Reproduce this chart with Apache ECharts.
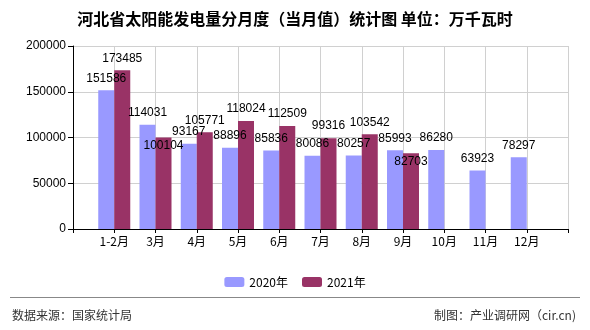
<!DOCTYPE html>
<html><head><meta charset="utf-8">
<script src="https://cdn.jsdelivr.net/npm/echarts@6/dist/echarts.min.js"></script>
<style>html,body{margin:0;padding:0;background:#fff}#c{width:590px;height:330px}</style>
</head><body><div id="c"></div>
<script>
const categories = ['1-2月','3月','4月','5月','6月','7月','8月','9月','10月','11月','12月'];
const values2020 = [151586,114031,93167,88896,85836,80086,80257,85993,86280,63923,78297];
const values2021 = [173485,100104,105771,118024,112509,99316,103542,82703];
const yTicks = [0,50000,100000,150000,200000];
const seriesNames = ['2020年','2021年'];
const titleText = '河北省太阳能发电量分月度（当月值）统计图 单位：万千瓦时';
const sourceText = '数据来源：国家统计局';
const makerText = '制图：产业调研网（cir.cn)';

const axisCats = [''].concat(categories, ['']);
const pad = arr => [null].concat(arr, new Array(axisCats.length - 1 - arr.length).fill(null));
const insideIdx2021 = [1, 7];
const FONT = '"Liberation Sans", sans-serif';
const CJK = '"Noto Sans CJK SC", sans-serif';

const chart = echarts.init(document.getElementById('c'), null, {renderer:'canvas'});
chart.setOption({
  animation:false,
  backgroundColor:'#fff',
  title:{text:titleText,left:'center',top:6,textStyle:{fontFamily:CJK,fontSize:16,fontWeight:'bold',color:'#000'}},
  grid:{left:73,right:22,top:46,bottom:101},
  legend:{top:271,left:'center',itemWidth:20,itemHeight:10,itemGap:14,
    textStyle:{fontFamily:CJK,fontSize:12,color:'#000'},data:seriesNames},
  xAxis:{type:'category',data:axisCats,boundaryGap:false,
    axisLine:{lineStyle:{color:'#000',width:1}},
    axisTick:{show:true,length:4,lineStyle:{color:'#000'}},
    axisLabel:{fontFamily:CJK,fontSize:12,color:'#000',margin:6,interval:0},
    splitLine:{show:true,lineStyle:{color:'#d0d0d0',width:1}}},
  yAxis:{type:'value',min:yTicks[0],max:yTicks[yTicks.length-1],interval:yTicks[1]-yTicks[0],
    axisLine:{show:true,lineStyle:{color:'#000',width:1}},
    axisTick:{show:true,length:5,lineStyle:{color:'#000'}},
    axisLabel:{fontFamily:FONT,fontSize:12,color:'#000',margin:7,formatter:v=>String(v)},
    splitLine:{show:true,lineStyle:{color:'#d0d0d0',width:1}}},
  series:[
    {name:seriesNames[0],type:'bar',barWidth:16,barGap:'0%',data:pad(values2020),
      itemStyle:{color:'#9999FF'},
      label:{show:true,position:'top',distance:6,fontFamily:FONT,fontSize:12,color:'#000'}},
    {name:seriesNames[1],type:'bar',barWidth:16,barGap:'0%',
      data:pad(values2021).map((v,i)=> (v!=null && insideIdx2021.includes(i-1)) ? {value:v,label:{position:'insideTop',distance:2}} : v),
      itemStyle:{color:'#993366'},
      label:{show:true,position:'top',distance:6,fontFamily:FONT,fontSize:12,color:'#000'}}
  ],
  graphic:[
    {type:'line',shape:{x1:10,y1:297.5,x2:580,y2:297.5},style:{stroke:'#888',lineWidth:1}},
    {type:'text',left:12,top:309,style:{text:sourceText,font:'12px '+CJK,fill:'#333'}},
    {type:'text',right:14,top:309,style:{text:makerText,font:'12px '+CJK,fill:'#333'}}
  ]
});
</script></body></html>
